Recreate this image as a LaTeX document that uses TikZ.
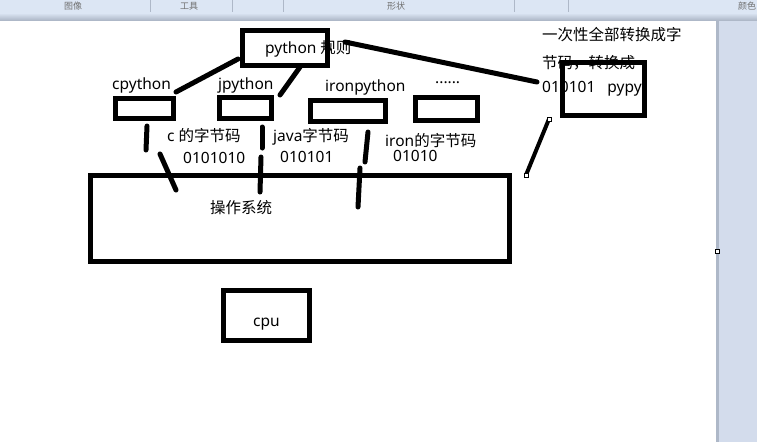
\documentclass[tikz,border=0pt]{standalone}
\usepackage{fontspec}
\setmainfont{Noto Sans}
\newfontfamily\zhfont{Noto Sans CJK SC}
\definecolor{barbg}{HTML}{DCE6F4}
\definecolor{sidebg}{HTML}{D3DCEC}
\definecolor{edgegray}{HTML}{AEB8C8}
\definecolor{bartext}{HTML}{707070}
\begin{document}
\begin{tikzpicture}[x=1pt,y=-1pt,
  box/.style={draw=black,line width=5pt,inner sep=0pt,outer sep=0pt,fill=none},
  lbl/.style={anchor=base west,inner sep=0pt,font=\fontsize{15.5}{18}\selectfont},
  barlbl/.style={anchor=base west,inner sep=0pt,text=bartext,font=\zhfont\fontsize{9}{10}\selectfont},
  stroke/.style={line width=5pt,line cap=round},
  handle/.style={draw=black,fill=white,line width=0.6pt,minimum size=4pt,inner sep=0pt}]
\useasboundingbox (0,0) rectangle (757,442);
% backgrounds
\fill[sidebg] (0,0) rectangle (757,442);
\fill[barbg] (0,0) rectangle (757,13);
\shade[top color=barbg,bottom color=edgegray] (0,13) rectangle (757,20);
\fill[white] (0,21) rectangle (716,442);
\fill[edgegray] (716,21) rectangle (719,442);
\foreach \sx in {150,232,283,514,568}{\draw[edgegray,line width=0.6pt] (\sx,0) -- (\sx,12);}
\node[barlbl] (tb1) at (64,9.5) {图像};
\node[barlbl] (tb2) at (180,9.5) {工具};
\node[barlbl] (tb3) at (387,9.5) {形状};
\node[barlbl] (tb4) at (738,9.5) {颜色};
\node[handle] (h3) at (717,251) {};

% texts
\node[lbl] (tpy) at (265,53) {python {\zhfont 规则}};
\node[lbl] (tcp) at (112,89) {cpython};
\node[lbl] (tjp) at (218,89) {jpython};
\node[lbl] (tip) at (325,91) {ironpython};
\node[lbl] (tdot) at (435,83) {......};
\node[lbl] (tc) at (167,141) {c {\zhfont 的字节码}};
\node[lbl] (tc2) at (183,163) {0101010};
\node[lbl] (tj) at (273,141) {java{\zhfont 字节码}};
\node[lbl] (tj2) at (280,162) {010101};
\node[lbl] (ti) at (385,146) {iron{\zhfont 的字节码}};
\node[lbl] (ti2) at (393,161) {01010};
\node[lbl,font=\zhfont\fontsize{15.5}{18}\selectfont] (tpp1) at (542,40) {一次性全部转换成字};
\node[lbl,font=\zhfont\fontsize{15.5}{18}\selectfont] (tpp2) at (542,68) {节码，转换成};
\node[lbl] (tpp3) at (542,92) {010101\ \ \ pypy};
\node[lbl,font=\zhfont\fontsize{15.5}{18}\selectfont] (tos) at (210,213) {操作系统};
\node[lbl] (tcpu) at (253,326) {cpu};

% boxes
\node[box,minimum width=85pt,minimum height=35pt] (py) at (285,48) {};
\node[box,minimum width=58pt,minimum height=20pt] (cp) at (144.5,108.5) {};
\node[box,minimum width=52pt,minimum height=21pt] (jp) at (245.5,108) {};
\node[box,minimum width=75pt,minimum height=21pt] (ip) at (348,111) {};
\node[box,minimum width=62pt,minimum height=23pt] (dots) at (446.5,109) {};
\node[box,minimum width=82pt,minimum height=53pt] (pypy) at (603.5,89) {};
\node[box,minimum width=419pt,minimum height=86pt] (os) at (300,218.5) {};
\node[box,minimum width=86pt,minimum height=50pt] (cpu) at (266.5,315.5) {};

% connector end points
\coordinate (a1) at (176,92);   \coordinate (a2) at (238,59);
\coordinate (b1) at (280,95);   \coordinate (b2) at (300,67);
\coordinate (c1) at (345,42);   \coordinate (c2) at (537,82);
\coordinate (d1) at (549,119);  \coordinate (d2) at (526,175);
\coordinate (e1) at (147,126);  \coordinate (e2) at (146,150);
\coordinate (e3) at (160,154);  \coordinate (e4) at (176,190);
\coordinate (f1) at (262,127);  \coordinate (f2) at (262,148);
\coordinate (f3) at (261,157);  \coordinate (f4) at (260,192);
\coordinate (g1) at (368,132);  \coordinate (g2) at (365,162);
\coordinate (g3) at (360,168);  \coordinate (g4) at (358,207);

\draw[stroke] (a1) -- (a2);
\draw[stroke] (b1) -- (b2);
\draw[stroke] (c1) -- (c2);
\draw[line width=4pt] (d1) -- (d2);
\node[handle] (h1) at (d1) {};
\node[handle] (h2) at (d2) {};
\draw[stroke] (e1) -- (e2);
\draw[stroke] (e3) -- (e4);
\draw[stroke] (f1) -- (f2);
\draw[stroke] (f3) -- (f4);
\draw[stroke] (g1) -- (g2);
\draw[stroke] (g3) -- (g4);
\end{tikzpicture}
\end{document}
